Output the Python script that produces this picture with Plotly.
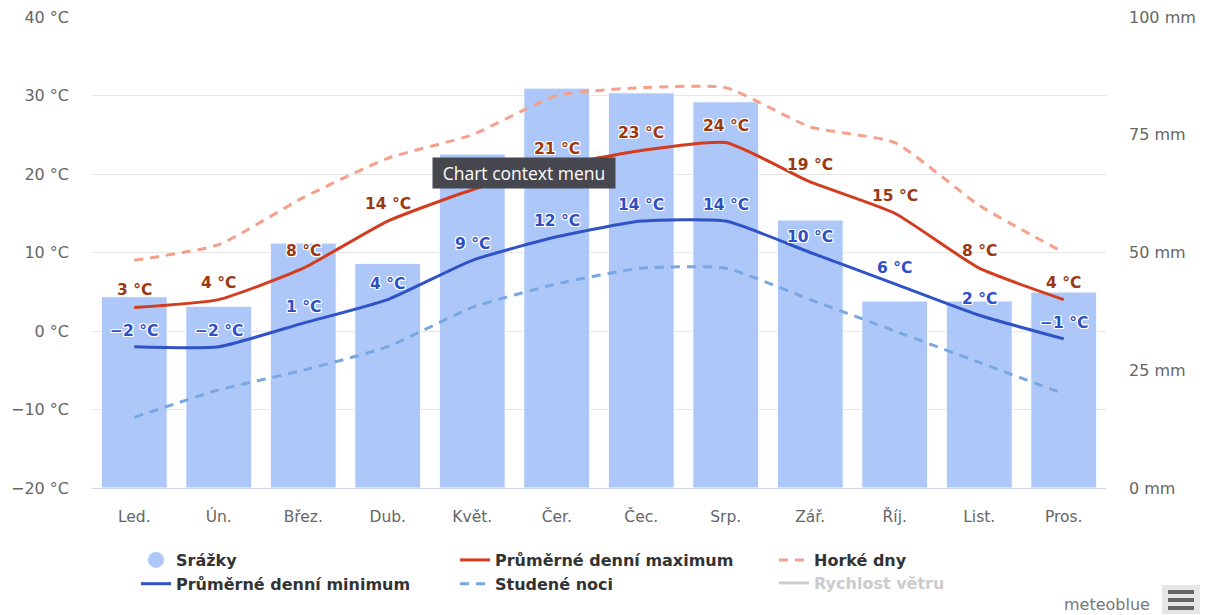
import plotly.graph_objects as go

months = ["Led.", "Ún.", "Břez.", "Dub.", "Květ.", "Čer.", "Čec.", "Srp.", "Zář.", "Říj.", "List.", "Pros."]
precip_mm = [40.6, 38.6, 52, 47.7, 70.9, 84.9, 83.9, 82, 56.9, 39.7, 39.7, 41.6]
temp_max = [3, 4, 8, 14, 18, 21, 23, 24, 19, 15, 8, 4]
temp_min = [-2, -2, 1, 4, 9, 12, 14, 14, 10, 6, 2, -1]
hot_days = [9, 11, 17, 22, 25, 30, 31, 31, 26, 24, 16, 10]
cold_nights = [-11, -7.5, -5, -2, 3, 6, 8, 8, 4, 0, -4, -8]

FONT = "DejaVu Sans"
C_BAR = "#adc8f8"
C_MAX = "#d33c1e"
C_MAX_T = "#9b3812"
C_MIN = "#2f52c6"
C_MIN_T = "#2f4fc4"
C_HOT = "#f4a08b"
C_COLD = "#79a7e4"
HALO = "1px 1px 0 #fff, -1px -1px 0 #fff, 1px -1px 0 #fff, -1px 1px 0 #fff, 0 1px 0 #fff, 0 -1px 0 #fff, 1px 0 0 #fff, -1px 0 0 #fff"
SMOOTH = 0.5

W, H = 1208, 615
L, R, T, B = 92, 1106, 17, 488

def px(x):
    return (x - L) / (R - L)

def py(y):
    return (B - y) / (B - T)

fig = go.Figure()

fig.add_trace(go.Bar(x=months, y=precip_mm, marker=dict(color=C_BAR, line=dict(color="white", width=1)),
                     showlegend=False, yaxis="y", name="Srážky"))

fig.add_trace(go.Scatter(x=[None], y=[None], mode="markers", name="Srážky", legendrank=1,
                         marker=dict(symbol="circle", size=17, color=C_BAR), legend="legend", yaxis="y2"))
fig.add_trace(go.Scatter(x=months, y=cold_nights, mode="lines", name="Studené noci", yaxis="y2", legendrank=2,
                         line=dict(color=C_COLD, width=3, dash="9px,7px", shape="spline", smoothing=SMOOTH),
                         legend="legend2"))
fig.add_trace(go.Scatter(x=months, y=hot_days, mode="lines", name="Horké dny", yaxis="y2", legendrank=1,
                         line=dict(color=C_HOT, width=3, dash="9px,7px", shape="spline", smoothing=SMOOTH),
                         legend="legend3"))
fig.add_trace(go.Scatter(x=months, y=temp_min, mode="lines", name="Průměrné denní minimum", yaxis="y2",
                         legendrank=2, line=dict(color=C_MIN, width=3, shape="spline", smoothing=SMOOTH),
                         legend="legend"))
fig.add_trace(go.Scatter(x=months, y=temp_max, mode="lines", name="Průměrné denní maximum", yaxis="y2",
                         legendrank=1, line=dict(color=C_MAX, width=3, shape="spline", smoothing=SMOOTH),
                         legend="legend2"))
fig.add_trace(go.Scatter(x=[None], y=[None], mode="lines", name="Rychlost větru", yaxis="y2",
                         line=dict(color="#cccccc", width=3), legend="legend4"))

def fmt(v):
    return ("−" if v < 0 else "") + f"{abs(v)} °C"

annotations = []
for m, v in zip(months, temp_max):
    annotations.append(dict(x=m, y=v, xref="x", yref="y2", text=fmt(v), showarrow=False, yshift=17,
                            font=dict(family=FONT, size=15.5, color=C_MAX_T, weight="bold", shadow=HALO)))
for m, v in zip(months, temp_min):
    annotations.append(dict(x=m, y=v, xref="x", yref="y2", text=fmt(v), showarrow=False, yshift=16,
                            font=dict(family=FONT, size=15.5, color=C_MIN_T, weight="bold", shadow=HALO)))

annotations.append(dict(x=px(524), y=py(173), xref="paper", yref="paper", text="Chart context menu",
                        showarrow=False, font=dict(family="Open Sans", size=17.5, color="white"),
                        bgcolor="#46474f", width=172, height=20, borderpad=5,
                        xanchor="center", yanchor="middle"))
annotations.append(dict(x=px(1152), y=py(604), xref="paper", yref="paper", text="meteoblue", showarrow=False,
                        font=dict(family=FONT, size=16, color="#777777"), xanchor="right", yanchor="middle"))

shapes = [
    dict(type="rect", xref="paper", yref="paper", x0=px(1162), x1=px(1200), y0=py(614), y1=py(585),
         fillcolor="#e6e6e6", line=dict(width=0), layer="above"),
]
for yy in [592, 600, 608]:
    shapes.append(dict(type="line", xref="paper", yref="paper", x0=px(1168), x1=px(1194), y0=py(yy), y1=py(yy),
                       line=dict(color="#666666", width=4), layer="above"))

def legend_font(c="#333333"):
    return dict(family=FONT, size=16, color=c, weight="bold")

def leg(x, y, c="#333333"):
    return dict(x=x / W, y=1 - y / H, xref="container", yref="container", xanchor="left", yanchor="top",
                font=legend_font(c), bgcolor="rgba(0,0,0,0)", tracegroupgap=0, itemwidth=30,
                traceorder="normal")

fig.update_layout(
    width=W, height=H,
    margin=dict(l=L, r=W - R, t=T, b=H - B, autoexpand=False),
    paper_bgcolor="white", plot_bgcolor="white",
    bargap=0.22,
    xaxis=dict(showline=True, linecolor="#ccd6eb", linewidth=1, showgrid=False, ticks="",
               tickfont=dict(family=FONT, size=15.5, color="#666666"), ticklabelstandoff=14),
    yaxis=dict(side="right", range=[0, 100], dtick=25, ticksuffix=" mm", showgrid=False, zeroline=False,
               tickfont=dict(family=FONT, size=16, color="#666666"), ticklabelstandoff=22),
    yaxis2=dict(side="left", overlaying="y", range=[-20, 40], dtick=10, ticksuffix=" °C", showgrid=True,
                gridcolor="#e6e6e6", zeroline=False, tickfont=dict(family=FONT, size=16, color="#666666"),
                ticklabelstandoff=22),
    legend=leg(136, 543),
    legend2=leg(455, 543),
    legend3=leg(774, 543),
    legend4=leg(774, 566, "#cccccc"),
    annotations=annotations,
    shapes=shapes,
    showlegend=True,
)

fig.write_html("out.html")
